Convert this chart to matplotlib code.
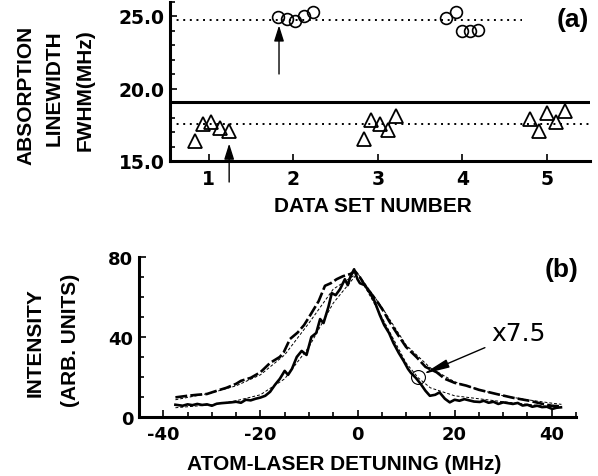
import numpy as np
import matplotlib
matplotlib.use('Agg')
import matplotlib.pyplot as plt
from matplotlib.ticker import MultipleLocator, FixedLocator, FormatStrFormatter

plt.rcParams['axes.unicode_minus'] = False

# ---- panel (a) data ----
tri_x = [0.84, 0.93, 1.03, 1.13, 1.24,
         2.83, 2.92, 3.02, 3.12, 3.22,
         4.80, 4.91, 5.00, 5.11, 5.21]
tri_y = [16.4, 17.55, 17.7, 17.3, 17.1,
         16.5, 17.8, 17.55, 17.16, 18.1,
         17.9, 17.1, 18.3, 17.67, 18.47]
circ_x = [1.82, 1.92, 2.02, 2.12, 2.23,
          3.81, 3.92, 4.00, 4.09, 4.18]
circ_y = [24.91, 24.79, 24.68, 25.02, 25.3,
          24.84, 25.3, 23.99, 23.99, 24.06]
mean_line = 19.1
upper_ref = 24.75
upper_ref_end = 4.7
lower_ref = 17.55
arrow_x = [1.24, 1.83]
arrow_tail = [13.55, 21.0]
arrow_tip = [16.2, 24.35]

# ---- panel (b) data ----
narrow_x = [-37.5, -36, -35, -34, -33, -32, -31, -30, -29, -28, -27, -26, -25, -24,
            -23, -22, -21, -20, -19, -18, -17, -16, -15, -14.3, -13.5, -12.5, -11.5,
            -10.5, -9.5, -8.5, -7.7, -7, -6, -5.3, -4.5, -3.6, -2.6, -2, -1.5, -0.7,
            0, 0.5, 1.5, 2.6, 3.5, 4.6, 5.5, 6.5, 7.4, 8.5, 9.5, 10.4, 11, 12, 13,
            14, 14.9, 16, 16.9, 18, 19, 20, 21, 22, 23, 24, 25.2, 26, 27, 28, 29, 30,
            31, 32, 33, 34, 35, 36, 37, 38, 39, 40.1, 41, 41.9]
narrow_y = [6, 5.5, 6.2, 5.8, 6.4, 5.9, 6.2, 5.5, 6.5, 6.8, 7, 7.2, 7.5, 7.0,
            8.5, 8.2, 9, 9.6, 10.5, 12.5, 16, 19, 23, 21, 24, 30, 33,
            31, 40, 42, 49, 47, 55, 62, 61, 64, 69, 66, 70, 74,
            69, 67, 66, 62, 58, 51, 46, 42, 37, 32, 28, 24, 22, 19.5, 16.5,
            13, 10.5, 11, 12.2, 9, 7.2, 8.5, 8, 8.8, 8.2, 7.6, 7.4, 8.0, 7.0, 7.5, 6.4, 7.2,
            6.8, 6.4, 6.9, 5.6, 6.0, 5.0, 5.5, 4.8, 5.0, 3.9, 4.5, 4.7]
wide_x = [-37.5, -35, -33, -31, -29, -27, -25, -24, -22, -20, -18, -16, -15.2, -13.9,
          -12.3, -11, -9.8, -8, -6.7, -5.5, -4.3, -3, -1.5, -0.5, 0.5, 1.5, 2.6, 4,
          5.3, 6.5, 8, 10, 12.2, 14, 16.3, 18, 20, 22.4, 25, 28.6, 32, 35.4, 38, 40, 41.9]
wide_y = [9.7, 10.5, 11, 11.4, 13, 14.5, 16.5, 18, 19.5, 22.3, 27, 30, 32.3, 39,
          42.3, 46, 50.7, 58, 65.7, 67, 69, 70.5, 71.6, 73, 70, 66, 62.4, 58,
          53.2, 48, 42.3, 35, 29.8, 25, 22.3, 19, 17, 15.6, 13.5, 11.4, 9.5, 8, 6.5, 5.5, 5.2]
fit_wide_x = [-37.5, -30, -25, -20, -15, -10, -5, 0, 5, 10, 15, 20, 25, 30, 35, 40, 42]
fit_wide_y = [8.5, 12, 15.5, 21, 31, 47, 64, 72, 55, 36, 24.5, 17.5, 13.5, 10.5, 8.5, 6.8, 6.2]
fit_narrow_x = [-37.5, -30, -25, -20, -15, -10, -5, 0, 5, 10, 12.5, 15, 20, 25, 30, 35, 40, 42]
fit_narrow_y = [4.5, 6, 8, 11, 19, 35, 57, 72, 50, 27, 19.5, 14.5, 10.5, 9, 7.5, 6.2, 5, 4.6]
marker_pt = (12.4, 19.8)
note_text = 'x7.5'
note_pos = (27.6, 41.9)

fig = plt.figure(figsize=(5.98, 4.77), dpi=100)
W, H = 598.0, 477.0

lab_font = dict(family='Liberation Sans', weight='bold', size=15)

# ================= panel (a) =================
ax1 = fig.add_axes([170 / W, 1 - 162 / H, 420 / W, 159.5 / H])
ax1.set_xlim(0.54, 5.51)
ax1.set_ylim(15, 26)
ax1.axhline(mean_line, color='k', lw=2.2)
ax1.hlines(upper_ref, 0.54, upper_ref_end, colors='k', lw=1.4, linestyles=(0, (1, 2.4)))
ax1.axhline(lower_ref, color='k', lw=1.4, ls=(0, (1, 2.4)))
ax1.plot(tri_x, tri_y, '^', ms=9.5, mfc='none', mec='k', mew=1.3, ls='none')
ax1.plot(circ_x, circ_y, 'o', ms=8.5, mfc='none', mec='k', mew=1.2, ls='none')
for x, y0, y1 in zip(arrow_x, arrow_tail, arrow_tip):
    ax1.annotate('', xy=(x, y1), xytext=(x, y0), annotation_clip=False,
                 arrowprops=dict(arrowstyle='-|>,head_length=0.95,head_width=0.3',
                                 mutation_scale=10, color='k', lw=1,
                                 shrinkA=0, shrinkB=0))

ax1.yaxis.set_major_locator(FixedLocator([15, 20, 25]))
ax1.yaxis.set_minor_locator(MultipleLocator(1))
ax1.yaxis.set_major_formatter(FormatStrFormatter('%.1f'))
ax1.xaxis.set_major_locator(FixedLocator([1, 2, 3, 4, 5]))

# ================= panel (b) =================
ax2 = fig.add_axes([139 / W, 1 - 417.7 / H, 437 / W, 159.4 / H])
ax2.set_xlim(-45, 45)
ax2.set_ylim(0, 80)
ax2.plot(fit_wide_x, fit_wide_y, color='k', lw=0.7, dashes=(3, 2))
ax2.plot(fit_narrow_x, fit_narrow_y, color='k', lw=0.7, dashes=(3, 2))
ax2.plot(wide_x, wide_y, color='k', lw=1.9, dashes=(4.5, 1.2))
ax2.plot(narrow_x, narrow_y, color='k', lw=1.9)
ax2.plot([marker_pt[0]], [marker_pt[1]], 'o', ms=10, mfc='none', mec='k', mew=0.8)
ax2.annotate(note_text, xy=(marker_pt[0] + 1.1, marker_pt[1] + 1.6), xytext=note_pos,
             ha='left', va='center', fontsize=18, family='DejaVu Sans',
             arrowprops=dict(arrowstyle='-|>,head_length=0.8,head_width=0.13',
                             mutation_scale=20, color='k', lw=1,
                             shrinkA=3, shrinkB=0))

ax2.yaxis.set_major_locator(FixedLocator([0, 40, 80]))
ax2.yaxis.set_minor_locator(MultipleLocator(10))
ax2.xaxis.set_major_locator(FixedLocator([-40, -20, 0, 20, 40]))
ax2.xaxis.set_minor_locator(MultipleLocator(5))

for ax, fs in ((ax1, 13.5), (ax2, 13)):
    for s in ('top', 'right'):
        ax.spines[s].set_visible(False)
    for s in ('left', 'bottom'):
        ax.spines[s].set_linewidth(2.2)
    ax.tick_params(which='both', direction='in', width=1.2, colors='k')
    ax.tick_params(which='major', length=5)
    ax.tick_params(which='minor', length=3.6)
    ax.tick_params(axis='y', pad=4)
    ax.tick_params(axis='x', pad=6)
    for lab in ax.get_xticklabels() + ax.get_yticklabels():
        lab.set_fontsize(fs)
        lab.set_fontweight('bold')
        lab.set_family('DejaVu Sans')

# ================= labels =================
fig.text(25.5 / W, 1 - 95 / H, 'ABSORPTION', rotation=90, ha='center', va='center', **lab_font)
fig.text(54.5 / W, 1 - 88 / H, 'LINEWIDTH', rotation=90, ha='center', va='center', **lab_font)
fig.text(85.5 / W, 1 - 90 / H, 'FWHM(MHz)', rotation=90, ha='center', va='center', **lab_font)
fig.text(373 / W, 1 - 207 / H, 'DATA SET NUMBER', ha='center', va='center', **lab_font)
fig.text(573 / W, 1 - 20 / H, '(a)', ha='center', va='center',
         family='Liberation Sans', weight='bold', size=19)

fig.text(35 / W, 1 - 343 / H, 'INTENSITY', rotation=90, ha='center', va='center', **lab_font)
fig.text(70 / W, 1 - 340 / H, '(ARB. UNITS)', rotation=90, ha='center', va='center', **lab_font)
fig.text(344.5 / W, 1 - 465 / H, 'ATOM-LASER DETUNING (MHz)', ha='center', va='center', **lab_font)
fig.text(561.5 / W, 1 - 270 / H, '(b)', ha='center', va='center',
         family='Liberation Sans', weight='bold', size=19)

fig.savefig('out.png', dpi=100)
